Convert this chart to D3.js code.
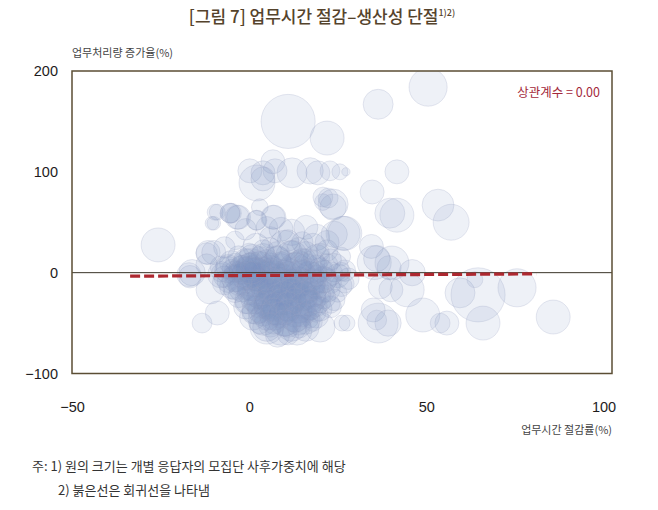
<!DOCTYPE html>
<html>
<head>
<meta charset="utf-8">
<script src="https://cdn.jsdelivr.net/npm/d3@7"></script>
<style>
  body { margin: 0; background: #fff; }
  text { font-family: "Liberation Sans", Arial, sans-serif; }
  .kr { font-family: "Noto Sans CJK KR", "Noto Sans", sans-serif; }
</style>
</head>
<body>
<div id="chart"></div>
<script>
// [업무시간 절감률(%), 업무처리량 증가율(%), 사후가중치]
// outlying, lightly overlapping respondents
const outerBubbles = [
  [11, 150, 127], [22, 133.5, 50], [36.4, 167, 39], [50.5, 184, 63],
  [41.7, 100, 25], [34.7, 80, 25], [41.7, 57, 50], [53.3, 67, 44], [57, 50, 56],
  [0.2, 101, 25], [3.9, 99, 25], [7.3, 101, 25], [12.1, 99, 39], [17.2, 101, 30],
  [19.4, 99, 25], [22.8, 101, 17], [25.6, 100, 11], [27.3, 100, 3],
  [6.7, 110, 25], [3.9, 93, 25], [2.2, 89, 56], [22.3, 74, 17], [23.7, 68, 39],
  [20.8, 75, 17], [26.5, 39, 50], [39.7, 59, 39], [23.7, 65, 30], [20.8, 70, 12],
  [-25.7, 27.5, 50], [-16.1, 0, 30], [-17, -2, 25], [-11.6, 20, 25], [-12, 19, 20],
  [-9.6, 60, 11], [-10.5, 49, 8], [-5.4, 59, 17], [-13.3, -50, 17], [-11, -17, 35],
  [-9, -40, 25], [-16.7, -4, 22],
  [5, -54, 50], [13.5, -57, 39], [20, -54, 39], [26.2, -50, 11], [35, -37, 25],
  [36.4, -50, 69], [37, -14, 25], [35.3, 10, 50], [34.5, 26, 25],
  [36, 14, 30], [39.5, 5, 25], [40, -17, 25],
  [17.2, -47, 11], [27.6, -50, 11], [36, -47, 17],
  [39.2, -50, 30], [44.6, -17, 50], [49, -42, 50], [55.8, -50, 25], [53.9, -50, 17],
  [59.5, -20, 39], [64.6, -22, 127], [63.7, -7, 11], [66, -50, 50], [75.6, -15, 63],
  [85.8, -44, 50], [40.3, 9.6, 50], [46, 0, 30]
];

// band above the dense core
const upperBubbles = [
  [-9, 60, 11], [-10, 49, 8], [-5, 59, 17], [-3, 55, 25], [2, 52, 17], [7, 55, 25],
  [3, 65, 12], [5, 45, 20], [9, 43, 25], [-1, 43, 20], [12, 40, 30], [16, 45, 25],
  [19, 35, 30], [15, 30, 20], [24, 38, 30], [27, 39, 50], [22, 30, 25], [11, 32, 20],
  [6, 35, 20], [-4, 32, 15], [-7, 25, 20], [-10, 20, 25], [-12, 8, 20],
  [-3.4, 55, 25], [2.2, 52, 17], [6.7, 55, 25], [-5.4, 59, 17]
];

// dense core around zero change
const coreBubbles = [
  [2, 26, 30], [6, 24, 20], [10, 27, 40], [14, 23, 25], [18, 26, 30], [22, 22, 20],
  [-3, 16, 20], [1, 14, 35], [4, 17, 25], [8, 13, 30], [12, 16, 45], [15, 12, 25],
  [19, 15, 30], [23, 13, 20], [26, 16, 15],
  [-6, 6, 25], [-2, 4, 30], [3, 6, 40], [6, 3, 35], [9, 7, 25], [13, 4, 45], [16, 6, 30],
  [20, 3, 25], [24, 5, 35], [27, 2, 20],
  [-7, -4, 20], [-4, -6, 30], [-1, -3, 35], [2, -6, 25], [5, -4, 40], [8, -7, 30],
  [11, -3, 35], [14, -6, 25], [17, -4, 40], [21, -7, 30], [25, -3, 25], [28, -6, 20],
  [-5, -14, 25], [-2, -16, 30], [1, -13, 40], [4, -17, 25], [7, -14, 35], [10, -16, 45],
  [13, -13, 30], [16, -17, 35], [19, -14, 25], [22, -16, 30], [26, -13, 20],
  [-3, -24, 20], [0, -27, 35], [3, -23, 30], [6, -26, 40], [9, -24, 30], [12, -27, 35],
  [15, -23, 40], [18, -26, 30], [21, -24, 25], [24, -27, 20],
  [-1, -34, 25], [2, -37, 35], [5, -33, 30], [8, -36, 45], [11, -34, 35], [14, -37, 30],
  [17, -33, 35], [20, -36, 25], [23, -34, 20],
  [1, -44, 30], [4, -47, 40], [7, -43, 35], [10, -46, 50], [13, -44, 40], [16, -47, 35],
  [19, -43, 25],
  [5, -54, 35], [9, -56, 45], [12, -53, 40], [16, -55, 30],
  [0, 20, 15], [4, 22, 20], [8, 19, 25], [12, 21, 20], [16, 19, 25], [20, 20, 15],
  [-4, 10, 15], [0, 9, 20], [5, 11, 25], [9, 10, 20], [14, 9, 30], [18, 10, 25], [22, 8, 20],
  [-8, 0, 15], [-4, 1, 20], [1, -1, 25], [4, 1, 20], [7, -1, 30], [10, 1, 25], [15, -1, 30],
  [19, 0, 20], [23, -1, 25], [26, 1, 15],
  [-6, -9, 20], [-2, -10, 25], [3, -9, 30], [6, -11, 25], [9, -9, 35], [12, -10, 30],
  [15, -11, 25], [18, -9, 30], [23, -10, 20], [27, -11, 15],
  [-4, -19, 20], [0, -20, 25], [3, -18, 30], [6, -21, 25], [9, -19, 30], [12, -20, 35],
  [15, -19, 25], [18, -21, 30], [21, -19, 20], [25, -20, 15],
  [-1, -30, 20], [2, -29, 25], [5, -31, 30], [8, -30, 25], [11, -29, 30], [14, -31, 25],
  [17, -30, 30], [20, -29, 20], [23, -31, 15],
  [1, -40, 20], [4, -41, 25], [7, -39, 30], [10, -40, 25], [13, -41, 30], [16, -39, 20],
  [19, -40, 15],
  [3, -50, 20], [7, -49, 25], [11, -51, 30], [14, -50, 25], [18, -49, 15],
  [8, -62, 25], [11, -61, 20],
  [0, 3, 30], [1, -2, 25], [-1, 5, 20], [2, 2, 30], [3, -3, 25], [-2, -1, 20],
  [4, 5, 20], [1, 8, 15], [-3, 2, 15], [5, -6, 20], [2, -8, 20], [6, 6, 15],
  [8, -20, 30], [11, -25, 30], [6, -35, 30], [13, -15, 30], [10, -5, 30], [16, -25, 25]
];

// more respondents inside the core
const coreBubbles2 = [
  [1, 0, 20], [3, 2, 25], [5, 0, 30], [7, 3, 20], [9, -2, 25], [11, 2, 30], [13, -1, 25],
  [15, 3, 20], [17, 1, 25], [19, -3, 20], [21, 2, 20],
  [0, -6, 25], [2, -11, 30], [4, -8, 25], [6, -13, 30], [8, -10, 25], [10, -12, 30],
  [12, -7, 25], [14, -12, 30], [16, -8, 25], [18, -13, 25], [20, -10, 20], [22, -6, 20],
  [0, -16, 25], [2, -21, 30], [4, -14, 25], [6, -18, 30], [8, -23, 25], [10, -21, 30],
  [12, -17, 25], [14, -22, 30], [16, -20, 25], [18, -16, 25], [20, -22, 20],
  [1, -26, 25], [3, -32, 30], [5, -28, 25], [7, -33, 30], [9, -28, 25], [11, -32, 30],
  [13, -27, 25], [15, -33, 30], [17, -28, 25], [19, -33, 20],
  [3, -38, 25], [5, -44, 30], [7, -37, 25], [9, -42, 30], [11, -38, 25], [13, -46, 30],
  [15, -42, 25], [17, -37, 20],
  [6, -52, 25], [10, -50, 30], [14, -53, 25],
  [1, 10, 20], [3, 14, 25], [6, 9, 20], [8, 15, 25], [10, 11, 20], [13, 8, 25],
  [16, 13, 20], [19, 7, 20],
  [-2, 8, 15], [-4, -2, 20], [-3, -12, 20], [-5, 4, 15],
  [-8, -2, 30], [-6, 3, 30], [-7, -10, 25], [-5, 10, 25], [-3, -5, 35], [-1, 12, 25],
  [-4, -15, 25], [-8, 6, 20]
];

// several respondents with exactly the same answer
const stackedBubbles = [
  [0.5, 4, 69], [0.5, 4, 42], [0.5, 4, 22], [0.5, 4, 9]
];

// regression line endpoints
const regX = [-33.6, 81];
const regY = [-3.5, -1.2];

const xTicks = [-50, 0, 50, 100];
const yTicks = [-100, 0, 100, 200];

const titleText = "[그림 7] 업무시간 절감–생산성 단절";
const titleSup = "1)2)";
const yTitle = "업무처리량 증가율(%)";
const xTitle = "업무시간 절감률(%)";
const corrText = "상관계수 = 0.00";
const notes = ["주: 1) 원의 크기는 개별 응답자의 모집단 사후가중치에 해당", "2) 붉은선은 회귀선을 나타냄"];

const width = 658, height = 510;
const box = { left: 72, right: 612, top: 71, bottom: 373.5 };

const svg = d3.select("#chart").append("svg")
  .attr("width", width)
  .attr("height", height);

const x = d3.scaleLinear().domain([-50, 102.4]).range([box.left, box.right]);
const y = d3.scaleLinear().domain([-100, 200]).range([box.bottom, box.top]);
const r = d3.scaleSqrt().domain([0, 100]).range([0, 24]);

// title
const title = svg.append("text")
  .attr("class", "kr")
  .attr("x", 322).attr("y", 23)
  .attr("text-anchor", "middle")
  .attr("fill", "#55432c")
  .style("font-size", "17px")
  .style("font-weight", 500)
  .text(titleText);
title.append("tspan")
  .attr("dy", -7)
  .style("font-size", "9px")
  .text(titleSup);

svg.append("defs").append("clipPath").attr("id", "plot")
  .append("rect")
  .attr("x", box.left).attr("y", box.top)
  .attr("width", box.right - box.left).attr("height", box.bottom - box.top);

const plot = svg.append("g").attr("clip-path", "url(#plot)");

const drawBubbles = (data, cls) => {
  plot.selectAll("circle." + cls)
    .data(data)
    .enter().append("circle")
    .attr("class", cls)
    .attr("cx", d => x(d[0]))
    .attr("cy", d => y(d[1]))
    .attr("r", d => r(d[2]))
    .attr("fill", "#7f91c5")
    .attr("fill-opacity", 0.13)
    .attr("stroke", "#9aa4c2")
    .attr("stroke-opacity", 0.25)
    .attr("stroke-width", 1);
};

drawBubbles(outerBubbles, "outer");
drawBubbles(upperBubbles, "upper");
drawBubbles(coreBubbles, "core");
drawBubbles(coreBubbles2, "core2");
drawBubbles(stackedBubbles, "stacked");

// zero line
svg.append("line")
  .attr("x1", box.left).attr("x2", box.right)
  .attr("y1", y(0)).attr("y2", y(0))
  .attr("stroke", "#3a3528")
  .attr("stroke-width", 1);

// regression line
svg.append("line")
  .attr("x1", x(regX[0])).attr("x2", x(regX[1]))
  .attr("y1", y(regY[0])).attr("y2", y(regY[1]))
  .attr("stroke", "#ad2830")
  .attr("stroke-width", 3.2)
  .attr("stroke-dasharray", "10,4");

// frame
svg.append("rect")
  .attr("x", box.left).attr("y", box.top)
  .attr("width", box.right - box.left).attr("height", box.bottom - box.top)
  .attr("fill", "none")
  .attr("stroke", "#5b4e34")
  .attr("stroke-width", 1.5);

// axes
const yAxis = svg.append("g")
  .attr("transform", `translate(${box.left},0)`)
  .call(d3.axisLeft(y).tickValues(yTicks).tickSize(0).tickPadding(14));
const xAxis = svg.append("g")
  .attr("transform", `translate(0,${box.bottom})`)
  .call(d3.axisBottom(x).tickValues(xTicks).tickSize(0).tickPadding(28));
[yAxis, xAxis].forEach(g => {
  g.select(".domain").remove();
  g.selectAll("text")
    .attr("fill", "#1e1b1c")
    .style("font-size", "14.5px")
    .style("font-family", "'Liberation Sans', Arial, sans-serif");
});

// axis titles
svg.append("text").attr("class", "kr")
  .attr("x", box.left).attr("y", 57)
  .attr("fill", "#444")
  .style("font-size", "11px")
  .text(yTitle);

svg.append("text").attr("class", "kr")
  .attr("x", box.right).attr("y", 434)
  .attr("text-anchor", "end")
  .attr("fill", "#444")
  .style("font-size", "11px")
  .text(xTitle);

svg.append("text").attr("class", "kr")
  .attr("x", 600).attr("y", 97)
  .attr("text-anchor", "end")
  .attr("fill", "#a3283a")
  .style("font-size", "12.5px")
  .text(corrText);

// notes
svg.append("text").attr("class", "kr")
  .attr("x", 32).attr("y", 471)
  .attr("fill", "#333")
  .style("font-size", "13px")
  .text(notes[0]);
svg.append("text").attr("class", "kr")
  .attr("x", 58).attr("y", 495)
  .attr("fill", "#333")
  .style("font-size", "13px")
  .text(notes[1]);
</script>
</body>
</html>
